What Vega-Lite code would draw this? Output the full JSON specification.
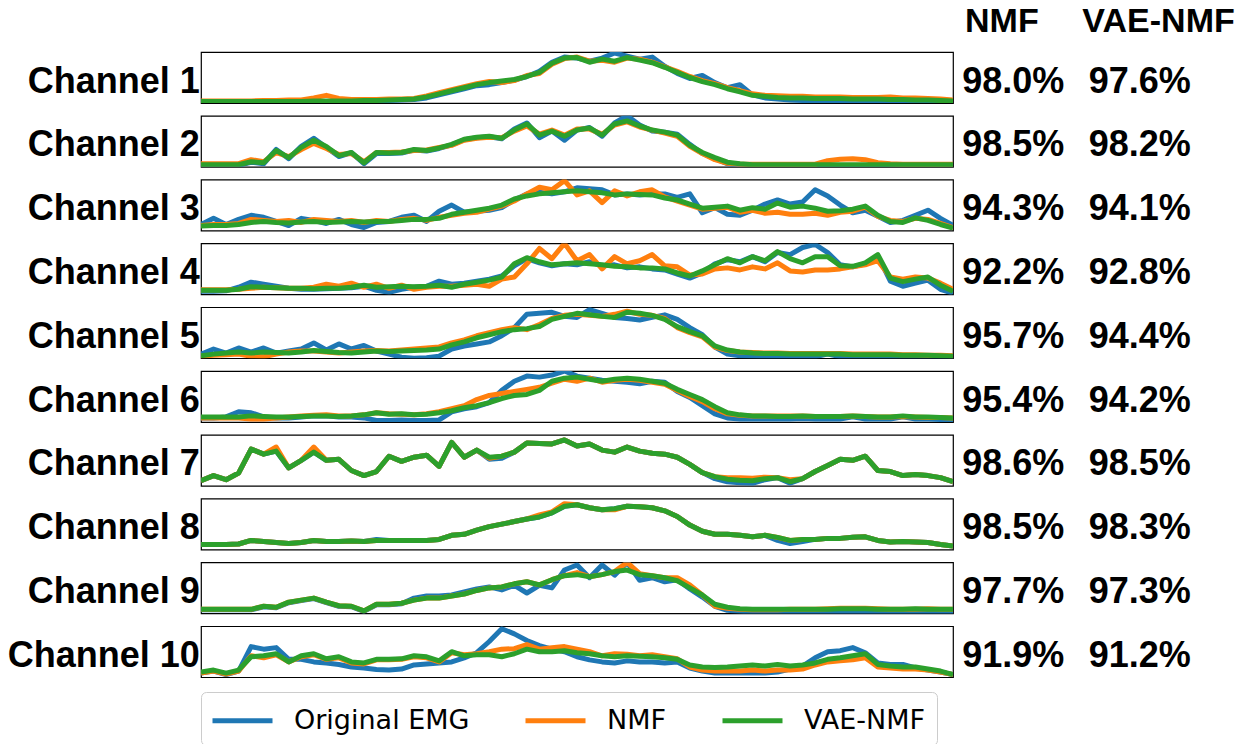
{
"$schema": "https://vega.github.io/schema/vega-lite/v6.json",
"padding": {"left": 7, "top": 4, "right": 5, "bottom": 0},
"background": "white",
"bounds": "flush",
"data": {"values": [
{"c":1,"h":"NMF"},{"c":1,"h":"VAE-NMF"},
{"c":1,"m":"L","p":"Channel 1"},{"c":2,"m":"L","p":"Channel 2"},{"c":3,"m":"L","p":"Channel 3"},{"c":4,"m":"L","p":"Channel 4"},{"c":5,"m":"L","p":"Channel 5"},
{"c":6,"m":"L","p":"Channel 6"},{"c":7,"m":"L","p":"Channel 7"},{"c":8,"m":"L","p":"Channel 8"},{"c":9,"m":"L","p":"Channel 9"},{"c":10,"m":"L","p":"Channel 10"},
{"c":1,"m":"NMF","p":"98.0%"},{"c":1,"m":"VAE","p":"97.6%"},
{"c":2,"m":"NMF","p":"98.5%"},{"c":2,"m":"VAE","p":"98.2%"},
{"c":3,"m":"NMF","p":"94.3%"},{"c":3,"m":"VAE","p":"94.1%"},
{"c":4,"m":"NMF","p":"92.2%"},{"c":4,"m":"VAE","p":"92.8%"},
{"c":5,"m":"NMF","p":"95.7%"},{"c":5,"m":"VAE","p":"94.4%"},
{"c":6,"m":"NMF","p":"95.4%"},{"c":6,"m":"VAE","p":"94.2%"},
{"c":7,"m":"NMF","p":"98.6%"},{"c":7,"m":"VAE","p":"98.5%"},
{"c":8,"m":"NMF","p":"98.5%"},{"c":8,"m":"VAE","p":"98.3%"},
{"c":9,"m":"NMF","p":"97.7%"},{"c":9,"m":"VAE","p":"97.3%"},
{"c":10,"m":"NMF","p":"91.9%"},{"c":10,"m":"VAE","p":"91.2%"},
{"c":1,"t":0,"v":3,"o":2,"n":4},{"c":1,"t":1,"v":3,"o":2,"n":4},{"c":1,"t":2,"v":3,"o":2,"n":4},{"c":1,"t":3,"v":3,"o":2,"n":4},{"c":1,"t":4,"v":3,"o":2,"n":4},{"c":1,"t":5,"v":3,"o":2,"n":5},{"c":1,"t":6,"v":3,"o":2,"n":5},{"c":1,"t":7,"v":3,"o":2,"n":6},{"c":1,"t":8,"v":3,"o":2,"n":6},{"c":1,"t":9,"v":4,"o":2,"n":10},
{"c":1,"t":10,"v":4,"o":2,"n":15},{"c":1,"t":11,"v":4,"o":2,"n":9},{"c":1,"t":12,"v":4,"o":2,"n":7},{"c":1,"t":13,"v":5,"o":2,"n":7},{"c":1,"t":14,"v":5,"o":2,"n":7},{"c":1,"t":15,"v":6,"o":5,"n":8},{"c":1,"t":16,"v":7,"o":6,"n":8},{"c":1,"t":17,"v":8,"o":7,"n":9},{"c":1,"t":18,"v":12,"o":10,"n":14},{"c":1,"t":19,"v":18,"o":16,"n":20},
{"c":1,"t":20,"v":24,"o":22,"n":26},{"c":1,"t":21,"v":30,"o":28,"n":32},{"c":1,"t":22,"v":36,"o":34,"n":38},{"c":1,"t":23,"v":40,"o":36,"n":42},{"c":1,"t":24,"v":43,"o":40,"n":40},{"c":1,"t":25,"v":46,"o":45,"n":44},{"c":1,"t":26,"v":52,"o":52,"n":54},{"c":1,"t":27,"v":60,"o":62,"n":58},{"c":1,"t":28,"v":78,"o":80,"n":76},{"c":1,"t":29,"v":88,"o":90,"n":87},
{"c":1,"t":30,"v":89,"o":88,"n":90},{"c":1,"t":31,"v":80,"o":82,"n":82},{"c":1,"t":32,"v":86,"o":88,"n":84},{"c":1,"t":33,"v":82,"o":98,"n":80},{"c":1,"t":34,"v":89,"o":92,"n":88},{"c":1,"t":35,"v":84,"o":86,"n":86},{"c":1,"t":36,"v":79,"o":90,"n":80},{"c":1,"t":37,"v":70,"o":72,"n":71},{"c":1,"t":38,"v":60,"o":58,"n":62},{"c":1,"t":39,"v":50,"o":48,"n":52},
{"c":1,"t":40,"v":42,"o":54,"n":44},{"c":1,"t":41,"v":36,"o":40,"n":38},{"c":1,"t":42,"v":28,"o":30,"n":30},{"c":1,"t":43,"v":22,"o":36,"n":24},{"c":1,"t":44,"v":15,"o":16,"n":18},{"c":1,"t":45,"v":13,"o":10,"n":15},{"c":1,"t":46,"v":11,"o":8,"n":14},{"c":1,"t":47,"v":10,"o":6,"n":13},{"c":1,"t":48,"v":10,"o":5,"n":13},{"c":1,"t":49,"v":9,"o":4,"n":12},
{"c":1,"t":50,"v":9,"o":4,"n":12},{"c":1,"t":51,"v":9,"o":4,"n":12},{"c":1,"t":52,"v":8,"o":3,"n":11},{"c":1,"t":53,"v":8,"o":3,"n":11},{"c":1,"t":54,"v":8,"o":3,"n":11},{"c":1,"t":55,"v":7,"o":3,"n":12},{"c":1,"t":56,"v":7,"o":3,"n":10},{"c":1,"t":57,"v":6,"o":2,"n":10},{"c":1,"t":58,"v":6,"o":2,"n":9},{"c":1,"t":59,"v":5,"o":2,"n":8},{"c":1,"t":60,"v":4,"o":2,"n":6},
{"c":2,"t":0,"v":4,"o":3,"n":6},{"c":2,"t":1,"v":4,"o":3,"n":6},{"c":2,"t":2,"v":4,"o":3,"n":6},{"c":2,"t":3,"v":4,"o":3,"n":6},{"c":2,"t":4,"v":10,"o":9,"n":14},{"c":2,"t":5,"v":8,"o":6,"n":10},{"c":2,"t":6,"v":32,"o":34,"n":28},{"c":2,"t":7,"v":18,"o":16,"n":20},{"c":2,"t":8,"v":38,"o":40,"n":34},{"c":2,"t":9,"v":52,"o":56,"n":46},
{"c":2,"t":10,"v":40,"o":38,"n":36},{"c":2,"t":11,"v":22,"o":20,"n":24},{"c":2,"t":12,"v":28,"o":28,"n":26},{"c":2,"t":13,"v":8,"o":6,"n":10},{"c":2,"t":14,"v":28,"o":26,"n":28},{"c":2,"t":15,"v":27,"o":26,"n":28},{"c":2,"t":16,"v":28,"o":27,"n":29},{"c":2,"t":17,"v":34,"o":33,"n":32},{"c":2,"t":18,"v":32,"o":31,"n":33},{"c":2,"t":19,"v":37,"o":36,"n":38},
{"c":2,"t":20,"v":44,"o":43,"n":42},{"c":2,"t":21,"v":54,"o":53,"n":52},{"c":2,"t":22,"v":58,"o":57,"n":56},{"c":2,"t":23,"v":60,"o":59,"n":58},{"c":2,"t":24,"v":56,"o":55,"n":57},{"c":2,"t":25,"v":72,"o":74,"n":70},{"c":2,"t":26,"v":84,"o":86,"n":80},{"c":2,"t":27,"v":62,"o":57,"n":64},{"c":2,"t":28,"v":70,"o":70,"n":72},{"c":2,"t":29,"v":60,"o":52,"n":62},
{"c":2,"t":30,"v":72,"o":72,"n":74},{"c":2,"t":31,"v":76,"o":77,"n":74},{"c":2,"t":32,"v":62,"o":60,"n":64},{"c":2,"t":33,"v":84,"o":86,"n":82},{"c":2,"t":34,"v":90,"o":100,"n":88},{"c":2,"t":35,"v":80,"o":82,"n":78},{"c":2,"t":36,"v":72,"o":70,"n":72},{"c":2,"t":37,"v":68,"o":68,"n":66},{"c":2,"t":38,"v":62,"o":64,"n":60},{"c":2,"t":39,"v":42,"o":44,"n":40},
{"c":2,"t":40,"v":28,"o":26,"n":26},{"c":2,"t":41,"v":18,"o":16,"n":14},{"c":2,"t":42,"v":9,"o":6,"n":7},{"c":2,"t":43,"v":6,"o":3,"n":5},{"c":2,"t":44,"v":4,"o":2,"n":5},{"c":2,"t":45,"v":4,"o":2,"n":5},{"c":2,"t":46,"v":4,"o":2,"n":5},{"c":2,"t":47,"v":4,"o":2,"n":5},{"c":2,"t":48,"v":4,"o":2,"n":5},{"c":2,"t":49,"v":4,"o":2,"n":5},
{"c":2,"t":50,"v":4,"o":2,"n":12},{"c":2,"t":51,"v":4,"o":2,"n":15},{"c":2,"t":52,"v":4,"o":2,"n":16},{"c":2,"t":53,"v":4,"o":2,"n":14},{"c":2,"t":54,"v":4,"o":2,"n":8},{"c":2,"t":55,"v":4,"o":2,"n":6},{"c":2,"t":56,"v":4,"o":2,"n":5},{"c":2,"t":57,"v":4,"o":2,"n":5},{"c":2,"t":58,"v":4,"o":2,"n":5},{"c":2,"t":59,"v":4,"o":2,"n":5},{"c":2,"t":60,"v":4,"o":2,"n":5},
{"c":3,"t":0,"v":9,"o":12,"n":10},{"c":3,"t":1,"v":10,"o":24,"n":12},{"c":3,"t":2,"v":10,"o":12,"n":12},{"c":3,"t":3,"v":12,"o":22,"n":14},{"c":3,"t":4,"v":16,"o":30,"n":22},{"c":3,"t":5,"v":18,"o":26,"n":20},{"c":3,"t":6,"v":16,"o":18,"n":18},{"c":3,"t":7,"v":15,"o":10,"n":20},{"c":3,"t":8,"v":17,"o":24,"n":16},{"c":3,"t":9,"v":18,"o":20,"n":22},
{"c":3,"t":10,"v":16,"o":14,"n":20},{"c":3,"t":11,"v":17,"o":22,"n":18},{"c":3,"t":12,"v":18,"o":12,"n":20},{"c":3,"t":13,"v":17,"o":6,"n":16},{"c":3,"t":14,"v":18,"o":16,"n":20},{"c":3,"t":15,"v":18,"o":18,"n":18},{"c":3,"t":16,"v":20,"o":26,"n":22},{"c":3,"t":17,"v":22,"o":30,"n":24},{"c":3,"t":18,"v":22,"o":18,"n":20},{"c":3,"t":19,"v":24,"o":38,"n":26},
{"c":3,"t":20,"v":32,"o":50,"n":30},{"c":3,"t":21,"v":36,"o":36,"n":34},{"c":3,"t":22,"v":40,"o":38,"n":36},{"c":3,"t":23,"v":44,"o":40,"n":42},{"c":3,"t":24,"v":50,"o":45,"n":48},{"c":3,"t":25,"v":62,"o":60,"n":58},{"c":3,"t":26,"v":68,"o":72,"n":72},{"c":3,"t":27,"v":72,"o":75,"n":85},{"c":3,"t":28,"v":74,"o":72,"n":80},{"c":3,"t":29,"v":76,"o":76,"n":98},
{"c":3,"t":30,"v":78,"o":84,"n":70},{"c":3,"t":31,"v":76,"o":82,"n":78},{"c":3,"t":32,"v":74,"o":80,"n":55},{"c":3,"t":33,"v":70,"o":70,"n":78},{"c":3,"t":34,"v":72,"o":72,"n":68},{"c":3,"t":35,"v":71,"o":70,"n":76},{"c":3,"t":36,"v":70,"o":72,"n":80},{"c":3,"t":37,"v":64,"o":72,"n":66},{"c":3,"t":38,"v":60,"o":65,"n":58},{"c":3,"t":39,"v":52,"o":72,"n":50},
{"c":3,"t":40,"v":44,"o":35,"n":42},{"c":3,"t":41,"v":46,"o":45,"n":44},{"c":3,"t":42,"v":48,"o":32,"n":46},{"c":3,"t":43,"v":40,"o":30,"n":36},{"c":3,"t":44,"v":45,"o":40,"n":40},{"c":3,"t":45,"v":42,"o":52,"n":34},{"c":3,"t":46,"v":54,"o":60,"n":36},{"c":3,"t":47,"v":46,"o":52,"n":32},{"c":3,"t":48,"v":48,"o":56,"n":32},{"c":3,"t":49,"v":44,"o":80,"n":34},
{"c":3,"t":50,"v":38,"o":68,"n":30},{"c":3,"t":51,"v":39,"o":50,"n":36},{"c":3,"t":52,"v":42,"o":35,"n":38},{"c":3,"t":53,"v":48,"o":40,"n":46},{"c":3,"t":54,"v":30,"o":28,"n":28},{"c":3,"t":55,"v":18,"o":16,"n":20},{"c":3,"t":56,"v":16,"o":20,"n":18},{"c":3,"t":57,"v":25,"o":30,"n":24},{"c":3,"t":58,"v":20,"o":40,"n":22},{"c":3,"t":59,"v":12,"o":24,"n":14},{"c":3,"t":60,"v":5,"o":10,"n":6},
{"c":4,"t":0,"v":8,"o":6,"n":9},{"c":4,"t":1,"v":8,"o":6,"n":9},{"c":4,"t":2,"v":8,"o":7,"n":9},{"c":4,"t":3,"v":10,"o":14,"n":10},{"c":4,"t":4,"v":15,"o":24,"n":12},{"c":4,"t":5,"v":14,"o":20,"n":14},{"c":4,"t":6,"v":13,"o":16,"n":13},{"c":4,"t":7,"v":12,"o":12,"n":12},{"c":4,"t":8,"v":12,"o":10,"n":12},{"c":4,"t":9,"v":11,"o":10,"n":14},
{"c":4,"t":10,"v":12,"o":11,"n":20},{"c":4,"t":11,"v":12,"o":12,"n":16},{"c":4,"t":12,"v":14,"o":13,"n":22},{"c":4,"t":13,"v":18,"o":16,"n":14},{"c":4,"t":14,"v":14,"o":8,"n":20},{"c":4,"t":15,"v":15,"o":4,"n":12},{"c":4,"t":16,"v":16,"o":10,"n":18},{"c":4,"t":17,"v":15,"o":14,"n":10},{"c":4,"t":18,"v":16,"o":16,"n":14},{"c":4,"t":19,"v":18,"o":26,"n":16},
{"c":4,"t":20,"v":14,"o":20,"n":16},{"c":4,"t":21,"v":20,"o":22,"n":18},{"c":4,"t":22,"v":24,"o":26,"n":20},{"c":4,"t":23,"v":28,"o":30,"n":16},{"c":4,"t":24,"v":34,"o":36,"n":30},{"c":4,"t":25,"v":60,"o":56,"n":34},{"c":4,"t":26,"v":72,"o":70,"n":60},{"c":4,"t":27,"v":64,"o":62,"n":90},{"c":4,"t":28,"v":58,"o":56,"n":70},{"c":4,"t":29,"v":60,"o":60,"n":100},
{"c":4,"t":30,"v":62,"o":58,"n":66},{"c":4,"t":31,"v":60,"o":64,"n":78},{"c":4,"t":32,"v":58,"o":56,"n":50},{"c":4,"t":33,"v":55,"o":58,"n":74},{"c":4,"t":34,"v":54,"o":52,"n":60},{"c":4,"t":35,"v":52,"o":54,"n":66},{"c":4,"t":36,"v":52,"o":50,"n":78},{"c":4,"t":37,"v":50,"o":48,"n":56},{"c":4,"t":38,"v":42,"o":40,"n":54},{"c":4,"t":39,"v":36,"o":32,"n":38},
{"c":4,"t":40,"v":46,"o":42,"n":40},{"c":4,"t":41,"v":58,"o":60,"n":50},{"c":4,"t":42,"v":70,"o":68,"n":52},{"c":4,"t":43,"v":62,"o":64,"n":48},{"c":4,"t":44,"v":74,"o":74,"n":54},{"c":4,"t":45,"v":66,"o":64,"n":50},{"c":4,"t":46,"v":84,"o":82,"n":62},{"c":4,"t":47,"v":70,"o":78,"n":46},{"c":4,"t":48,"v":62,"o":92,"n":44},{"c":4,"t":49,"v":74,"o":98,"n":48},
{"c":4,"t":50,"v":74,"o":82,"n":48},{"c":4,"t":51,"v":56,"o":58,"n":50},{"c":4,"t":52,"v":55,"o":54,"n":54},{"c":4,"t":53,"v":62,"o":60,"n":58},{"c":4,"t":54,"v":78,"o":76,"n":66},{"c":4,"t":55,"v":32,"o":26,"n":34},{"c":4,"t":56,"v":25,"o":16,"n":30},{"c":4,"t":57,"v":30,"o":22,"n":34},{"c":4,"t":58,"v":34,"o":28,"n":32},{"c":4,"t":59,"v":18,"o":10,"n":22},{"c":4,"t":60,"v":6,"o":2,"n":10},
{"c":5,"t":0,"v":5,"o":8,"n":4},{"c":5,"t":1,"v":8,"o":18,"n":6},{"c":5,"t":2,"v":10,"o":10,"n":7},{"c":5,"t":3,"v":12,"o":20,"n":8},{"c":5,"t":4,"v":10,"o":12,"n":4},{"c":5,"t":5,"v":12,"o":20,"n":3},{"c":5,"t":6,"v":11,"o":10,"n":8},{"c":5,"t":7,"v":10,"o":14,"n":12},{"c":5,"t":8,"v":12,"o":18,"n":14},{"c":5,"t":9,"v":15,"o":30,"n":14},
{"c":5,"t":10,"v":13,"o":16,"n":12},{"c":5,"t":11,"v":11,"o":28,"n":10},{"c":5,"t":12,"v":10,"o":18,"n":12},{"c":5,"t":13,"v":12,"o":25,"n":14},{"c":5,"t":14,"v":14,"o":14,"n":15},{"c":5,"t":15,"v":13,"o":8,"n":14},{"c":5,"t":16,"v":14,"o":2,"n":16},{"c":5,"t":17,"v":15,"o":0,"n":18},{"c":5,"t":18,"v":16,"o":1,"n":20},{"c":5,"t":19,"v":18,"o":4,"n":22},
{"c":5,"t":20,"v":26,"o":18,"n":30},{"c":5,"t":21,"v":32,"o":24,"n":36},{"c":5,"t":22,"v":40,"o":28,"n":44},{"c":5,"t":23,"v":46,"o":32,"n":50},{"c":5,"t":24,"v":52,"o":44,"n":56},{"c":5,"t":25,"v":56,"o":60,"n":60},{"c":5,"t":26,"v":58,"o":86,"n":56},{"c":5,"t":27,"v":62,"o":88,"n":66},{"c":5,"t":28,"v":76,"o":90,"n":78},{"c":5,"t":29,"v":82,"o":82,"n":84},
{"c":5,"t":30,"v":88,"o":80,"n":86},{"c":5,"t":31,"v":85,"o":95,"n":84},{"c":5,"t":32,"v":82,"o":88,"n":82},{"c":5,"t":33,"v":80,"o":80,"n":86},{"c":5,"t":34,"v":90,"o":78,"n":92},{"c":5,"t":35,"v":88,"o":75,"n":86},{"c":5,"t":36,"v":84,"o":80,"n":84},{"c":5,"t":37,"v":76,"o":85,"n":78},{"c":5,"t":38,"v":62,"o":76,"n":60},{"c":5,"t":39,"v":52,"o":60,"n":50},
{"c":5,"t":40,"v":44,"o":46,"n":42},{"c":5,"t":41,"v":24,"o":22,"n":22},{"c":5,"t":42,"v":16,"o":8,"n":15},{"c":5,"t":43,"v":12,"o":5,"n":12},{"c":5,"t":44,"v":10,"o":4,"n":11},{"c":5,"t":45,"v":9,"o":3,"n":10},{"c":5,"t":46,"v":9,"o":3,"n":10},{"c":5,"t":47,"v":8,"o":3,"n":9},{"c":5,"t":48,"v":8,"o":3,"n":9},{"c":5,"t":49,"v":8,"o":3,"n":9},
{"c":5,"t":50,"v":8,"o":8,"n":9},{"c":5,"t":51,"v":8,"o":3,"n":9},{"c":5,"t":52,"v":7,"o":3,"n":8},{"c":5,"t":53,"v":7,"o":3,"n":8},{"c":5,"t":54,"v":7,"o":4,"n":8},{"c":5,"t":55,"v":7,"o":3,"n":8},{"c":5,"t":56,"v":6,"o":3,"n":7},{"c":5,"t":57,"v":6,"o":3,"n":7},{"c":5,"t":58,"v":6,"o":3,"n":6},{"c":5,"t":59,"v":5,"o":3,"n":6},{"c":5,"t":60,"v":4,"o":3,"n":5},
{"c":6,"t":0,"v":10,"o":8,"n":8},{"c":6,"t":1,"v":10,"o":8,"n":8},{"c":6,"t":2,"v":10,"o":10,"n":8},{"c":6,"t":3,"v":10,"o":20,"n":8},{"c":6,"t":4,"v":12,"o":18,"n":6},{"c":6,"t":5,"v":11,"o":10,"n":6},{"c":6,"t":6,"v":10,"o":8,"n":8},{"c":6,"t":7,"v":10,"o":8,"n":10},{"c":6,"t":8,"v":11,"o":10,"n":12},{"c":6,"t":9,"v":12,"o":12,"n":13},
{"c":6,"t":10,"v":12,"o":12,"n":14},{"c":6,"t":11,"v":11,"o":10,"n":12},{"c":6,"t":12,"v":12,"o":10,"n":12},{"c":6,"t":13,"v":14,"o":8,"n":14},{"c":6,"t":14,"v":18,"o":3,"n":18},{"c":6,"t":15,"v":15,"o":3,"n":16},{"c":6,"t":16,"v":16,"o":4,"n":15},{"c":6,"t":17,"v":14,"o":3,"n":14},{"c":6,"t":18,"v":15,"o":3,"n":16},{"c":6,"t":19,"v":18,"o":4,"n":20},
{"c":6,"t":20,"v":22,"o":20,"n":26},{"c":6,"t":21,"v":28,"o":26,"n":32},{"c":6,"t":22,"v":32,"o":30,"n":44},{"c":6,"t":23,"v":38,"o":38,"n":52},{"c":6,"t":24,"v":46,"o":62,"n":56},{"c":6,"t":25,"v":52,"o":80,"n":60},{"c":6,"t":26,"v":54,"o":90,"n":64},{"c":6,"t":27,"v":62,"o":88,"n":68},{"c":6,"t":28,"v":80,"o":92,"n":76},{"c":6,"t":29,"v":86,"o":100,"n":84},
{"c":6,"t":30,"v":88,"o":90,"n":80},{"c":6,"t":31,"v":84,"o":86,"n":86},{"c":6,"t":32,"v":80,"o":82,"n":78},{"c":6,"t":33,"v":84,"o":80,"n":82},{"c":6,"t":34,"v":86,"o":78,"n":84},{"c":6,"t":35,"v":84,"o":75,"n":82},{"c":6,"t":36,"v":80,"o":80,"n":78},{"c":6,"t":37,"v":76,"o":78,"n":74},{"c":6,"t":38,"v":64,"o":60,"n":62},{"c":6,"t":39,"v":54,"o":48,"n":50},
{"c":6,"t":40,"v":44,"o":32,"n":40},{"c":6,"t":41,"v":30,"o":16,"n":26},{"c":6,"t":42,"v":18,"o":8,"n":16},{"c":6,"t":43,"v":14,"o":6,"n":13},{"c":6,"t":44,"v":12,"o":6,"n":12},{"c":6,"t":45,"v":12,"o":6,"n":12},{"c":6,"t":46,"v":11,"o":6,"n":12},{"c":6,"t":47,"v":11,"o":6,"n":12},{"c":6,"t":48,"v":12,"o":7,"n":12},{"c":6,"t":49,"v":11,"o":6,"n":11},
{"c":6,"t":50,"v":11,"o":6,"n":11},{"c":6,"t":51,"v":11,"o":6,"n":11},{"c":6,"t":52,"v":12,"o":10,"n":12},{"c":6,"t":53,"v":11,"o":6,"n":11},{"c":6,"t":54,"v":10,"o":6,"n":10},{"c":6,"t":55,"v":10,"o":6,"n":10},{"c":6,"t":56,"v":12,"o":10,"n":11},{"c":6,"t":57,"v":10,"o":6,"n":10},{"c":6,"t":58,"v":10,"o":6,"n":9},{"c":6,"t":59,"v":9,"o":5,"n":9},{"c":6,"t":60,"v":8,"o":5,"n":8},
{"c":7,"t":0,"v":10,"o":10,"n":10},{"c":7,"t":1,"v":20,"o":20,"n":20},{"c":7,"t":2,"v":12,"o":12,"n":12},{"c":7,"t":3,"v":25,"o":25,"n":25},{"c":7,"t":4,"v":72,"o":72,"n":72},{"c":7,"t":5,"v":62,"o":62,"n":62},{"c":7,"t":6,"v":68,"o":68,"n":76},{"c":7,"t":7,"v":35,"o":35,"n":35},{"c":7,"t":8,"v":50,"o":50,"n":50},{"c":7,"t":9,"v":66,"o":66,"n":76},
{"c":7,"t":10,"v":50,"o":50,"n":50},{"c":7,"t":11,"v":52,"o":52,"n":52},{"c":7,"t":12,"v":30,"o":30,"n":30},{"c":7,"t":13,"v":20,"o":20,"n":20},{"c":7,"t":14,"v":28,"o":28,"n":28},{"c":7,"t":15,"v":58,"o":58,"n":58},{"c":7,"t":16,"v":48,"o":48,"n":48},{"c":7,"t":17,"v":56,"o":56,"n":56},{"c":7,"t":18,"v":60,"o":60,"n":60},{"c":7,"t":19,"v":38,"o":38,"n":38},
{"c":7,"t":20,"v":85,"o":85,"n":85},{"c":7,"t":21,"v":56,"o":56,"n":56},{"c":7,"t":22,"v":70,"o":70,"n":70},{"c":7,"t":23,"v":56,"o":52,"n":54},{"c":7,"t":24,"v":58,"o":54,"n":58},{"c":7,"t":25,"v":66,"o":66,"n":66},{"c":7,"t":26,"v":84,"o":84,"n":84},{"c":7,"t":27,"v":83,"o":83,"n":83},{"c":7,"t":28,"v":82,"o":82,"n":82},{"c":7,"t":29,"v":90,"o":90,"n":90},
{"c":7,"t":30,"v":78,"o":78,"n":78},{"c":7,"t":31,"v":82,"o":82,"n":82},{"c":7,"t":32,"v":70,"o":70,"n":70},{"c":7,"t":33,"v":66,"o":66,"n":66},{"c":7,"t":34,"v":76,"o":76,"n":76},{"c":7,"t":35,"v":68,"o":68,"n":68},{"c":7,"t":36,"v":64,"o":64,"n":64},{"c":7,"t":37,"v":62,"o":62,"n":62},{"c":7,"t":38,"v":56,"o":56,"n":56},{"c":7,"t":39,"v":42,"o":42,"n":42},
{"c":7,"t":40,"v":26,"o":26,"n":26},{"c":7,"t":41,"v":18,"o":14,"n":18},{"c":7,"t":42,"v":13,"o":8,"n":16},{"c":7,"t":43,"v":11,"o":6,"n":16},{"c":7,"t":44,"v":10,"o":5,"n":15},{"c":7,"t":45,"v":14,"o":12,"n":17},{"c":7,"t":46,"v":16,"o":16,"n":16},{"c":7,"t":47,"v":8,"o":5,"n":12},{"c":7,"t":48,"v":14,"o":14,"n":14},{"c":7,"t":49,"v":28,"o":28,"n":28},
{"c":7,"t":50,"v":40,"o":40,"n":40},{"c":7,"t":51,"v":52,"o":52,"n":52},{"c":7,"t":52,"v":50,"o":50,"n":50},{"c":7,"t":53,"v":58,"o":58,"n":58},{"c":7,"t":54,"v":30,"o":30,"n":30},{"c":7,"t":55,"v":28,"o":28,"n":28},{"c":7,"t":56,"v":20,"o":20,"n":20},{"c":7,"t":57,"v":22,"o":22,"n":22},{"c":7,"t":58,"v":20,"o":20,"n":20},{"c":7,"t":59,"v":16,"o":16,"n":16},{"c":7,"t":60,"v":8,"o":8,"n":8},
{"c":8,"t":0,"v":10,"o":10,"n":10},{"c":8,"t":1,"v":10,"o":10,"n":10},{"c":8,"t":2,"v":10,"o":10,"n":10},{"c":8,"t":3,"v":11,"o":11,"n":11},{"c":8,"t":4,"v":18,"o":18,"n":18},{"c":8,"t":5,"v":16,"o":16,"n":16},{"c":8,"t":6,"v":14,"o":14,"n":14},{"c":8,"t":7,"v":12,"o":12,"n":12},{"c":8,"t":8,"v":14,"o":14,"n":14},{"c":8,"t":9,"v":18,"o":18,"n":18},
{"c":8,"t":10,"v":16,"o":16,"n":16},{"c":8,"t":11,"v":16,"o":16,"n":16},{"c":8,"t":12,"v":17,"o":17,"n":17},{"c":8,"t":13,"v":16,"o":16,"n":16},{"c":8,"t":14,"v":18,"o":20,"n":18},{"c":8,"t":15,"v":18,"o":18,"n":18},{"c":8,"t":16,"v":18,"o":18,"n":18},{"c":8,"t":17,"v":18,"o":18,"n":18},{"c":8,"t":18,"v":18,"o":18,"n":18},{"c":8,"t":19,"v":20,"o":20,"n":20},
{"c":8,"t":20,"v":28,"o":28,"n":28},{"c":8,"t":21,"v":30,"o":30,"n":30},{"c":8,"t":22,"v":38,"o":38,"n":38},{"c":8,"t":23,"v":45,"o":45,"n":45},{"c":8,"t":24,"v":50,"o":50,"n":50},{"c":8,"t":25,"v":55,"o":55,"n":55},{"c":8,"t":26,"v":60,"o":60,"n":60},{"c":8,"t":27,"v":64,"o":64,"n":68},{"c":8,"t":28,"v":72,"o":72,"n":74},{"c":8,"t":29,"v":85,"o":85,"n":90},
{"c":8,"t":30,"v":88,"o":88,"n":88},{"c":8,"t":31,"v":82,"o":82,"n":82},{"c":8,"t":32,"v":78,"o":78,"n":78},{"c":8,"t":33,"v":80,"o":80,"n":78},{"c":8,"t":34,"v":85,"o":85,"n":85},{"c":8,"t":35,"v":84,"o":84,"n":84},{"c":8,"t":36,"v":82,"o":82,"n":82},{"c":8,"t":37,"v":76,"o":76,"n":76},{"c":8,"t":38,"v":65,"o":65,"n":65},{"c":8,"t":39,"v":48,"o":48,"n":48},
{"c":8,"t":40,"v":36,"o":36,"n":36},{"c":8,"t":41,"v":30,"o":30,"n":30},{"c":8,"t":42,"v":30,"o":30,"n":30},{"c":8,"t":43,"v":28,"o":28,"n":28},{"c":8,"t":44,"v":25,"o":25,"n":25},{"c":8,"t":45,"v":28,"o":28,"n":28},{"c":8,"t":46,"v":24,"o":18,"n":24},{"c":8,"t":47,"v":18,"o":12,"n":18},{"c":8,"t":48,"v":20,"o":16,"n":20},{"c":8,"t":49,"v":20,"o":20,"n":20},
{"c":8,"t":50,"v":22,"o":22,"n":22},{"c":8,"t":51,"v":22,"o":22,"n":22},{"c":8,"t":52,"v":24,"o":24,"n":24},{"c":8,"t":53,"v":25,"o":25,"n":25},{"c":8,"t":54,"v":18,"o":18,"n":18},{"c":8,"t":55,"v":15,"o":15,"n":15},{"c":8,"t":56,"v":16,"o":16,"n":16},{"c":8,"t":57,"v":15,"o":15,"n":15},{"c":8,"t":58,"v":14,"o":14,"n":14},{"c":8,"t":59,"v":10,"o":10,"n":10},{"c":8,"t":60,"v":7,"o":7,"n":7},
{"c":9,"t":0,"v":8,"o":7,"n":8},{"c":9,"t":1,"v":8,"o":7,"n":8},{"c":9,"t":2,"v":8,"o":7,"n":8},{"c":9,"t":3,"v":8,"o":7,"n":8},{"c":9,"t":4,"v":8,"o":7,"n":8},{"c":9,"t":5,"v":14,"o":13,"n":14},{"c":9,"t":6,"v":12,"o":11,"n":12},{"c":9,"t":7,"v":22,"o":21,"n":22},{"c":9,"t":8,"v":26,"o":25,"n":26},{"c":9,"t":9,"v":30,"o":29,"n":30},
{"c":9,"t":10,"v":22,"o":21,"n":22},{"c":9,"t":11,"v":15,"o":14,"n":15},{"c":9,"t":12,"v":14,"o":13,"n":14},{"c":9,"t":13,"v":5,"o":4,"n":5},{"c":9,"t":14,"v":18,"o":17,"n":18},{"c":9,"t":15,"v":18,"o":17,"n":18},{"c":9,"t":16,"v":20,"o":19,"n":20},{"c":9,"t":17,"v":26,"o":30,"n":26},{"c":9,"t":18,"v":30,"o":34,"n":30},{"c":9,"t":19,"v":30,"o":34,"n":30},
{"c":9,"t":20,"v":34,"o":36,"n":34},{"c":9,"t":21,"v":38,"o":42,"n":38},{"c":9,"t":22,"v":45,"o":48,"n":45},{"c":9,"t":23,"v":50,"o":52,"n":50},{"c":9,"t":24,"v":52,"o":46,"n":52},{"c":9,"t":25,"v":58,"o":55,"n":58},{"c":9,"t":26,"v":62,"o":40,"n":62},{"c":9,"t":27,"v":56,"o":55,"n":56},{"c":9,"t":28,"v":66,"o":50,"n":66},{"c":9,"t":29,"v":74,"o":85,"n":74},
{"c":9,"t":30,"v":76,"o":95,"n":80},{"c":9,"t":31,"v":72,"o":70,"n":72},{"c":9,"t":32,"v":76,"o":95,"n":76},{"c":9,"t":33,"v":82,"o":75,"n":82},{"c":9,"t":34,"v":85,"o":100,"n":100},{"c":9,"t":35,"v":76,"o":65,"n":78},{"c":9,"t":36,"v":74,"o":70,"n":74},{"c":9,"t":37,"v":70,"o":62,"n":70},{"c":9,"t":38,"v":64,"o":66,"n":70},{"c":9,"t":39,"v":50,"o":48,"n":56},
{"c":9,"t":40,"v":36,"o":32,"n":36},{"c":9,"t":41,"v":18,"o":14,"n":14},{"c":9,"t":42,"v":12,"o":6,"n":10},{"c":9,"t":43,"v":9,"o":4,"n":8},{"c":9,"t":44,"v":8,"o":3,"n":7},{"c":9,"t":45,"v":8,"o":3,"n":7},{"c":9,"t":46,"v":8,"o":3,"n":7},{"c":9,"t":47,"v":8,"o":3,"n":8},{"c":9,"t":48,"v":8,"o":3,"n":8},{"c":9,"t":49,"v":8,"o":3,"n":8},
{"c":9,"t":50,"v":8,"o":3,"n":9},{"c":9,"t":51,"v":9,"o":3,"n":10},{"c":9,"t":52,"v":9,"o":3,"n":10},{"c":9,"t":53,"v":9,"o":3,"n":10},{"c":9,"t":54,"v":8,"o":3,"n":9},{"c":9,"t":55,"v":8,"o":3,"n":8},{"c":9,"t":56,"v":8,"o":3,"n":8},{"c":9,"t":57,"v":9,"o":3,"n":8},{"c":9,"t":58,"v":8,"o":3,"n":9},{"c":9,"t":59,"v":8,"o":3,"n":8},{"c":9,"t":60,"v":8,"o":3,"n":8},
{"c":10,"t":0,"v":10,"o":8,"n":8},{"c":10,"t":1,"v":14,"o":12,"n":12},{"c":10,"t":2,"v":8,"o":5,"n":6},{"c":10,"t":3,"v":14,"o":12,"n":12},{"c":10,"t":4,"v":40,"o":60,"n":42},{"c":10,"t":5,"v":42,"o":55,"n":38},{"c":10,"t":6,"v":46,"o":58,"n":44},{"c":10,"t":7,"v":30,"o":35,"n":30},{"c":10,"t":8,"v":42,"o":35,"n":40},{"c":10,"t":9,"v":46,"o":30,"n":44},
{"c":10,"t":10,"v":36,"o":28,"n":35},{"c":10,"t":11,"v":40,"o":25,"n":38},{"c":10,"t":12,"v":30,"o":20,"n":28},{"c":10,"t":13,"v":28,"o":18,"n":26},{"c":10,"t":14,"v":35,"o":15,"n":34},{"c":10,"t":15,"v":35,"o":14,"n":34},{"c":10,"t":16,"v":36,"o":16,"n":35},{"c":10,"t":17,"v":42,"o":24,"n":40},{"c":10,"t":18,"v":40,"o":26,"n":38},{"c":10,"t":19,"v":32,"o":28,"n":30},
{"c":10,"t":20,"v":50,"o":30,"n":48},{"c":10,"t":21,"v":42,"o":38,"n":44},{"c":10,"t":22,"v":44,"o":48,"n":46},{"c":10,"t":23,"v":44,"o":70,"n":50},{"c":10,"t":24,"v":40,"o":95,"n":55},{"c":10,"t":25,"v":46,"o":85,"n":56},{"c":10,"t":26,"v":55,"o":72,"n":64},{"c":10,"t":27,"v":50,"o":62,"n":55},{"c":10,"t":28,"v":50,"o":55,"n":58},{"c":10,"t":29,"v":52,"o":50,"n":60},
{"c":10,"t":30,"v":48,"o":40,"n":55},{"c":10,"t":31,"v":46,"o":34,"n":50},{"c":10,"t":32,"v":42,"o":30,"n":42},{"c":10,"t":33,"v":40,"o":28,"n":46},{"c":10,"t":34,"v":42,"o":32,"n":45},{"c":10,"t":35,"v":41,"o":30,"n":42},{"c":10,"t":36,"v":40,"o":30,"n":44},{"c":10,"t":37,"v":38,"o":28,"n":40},{"c":10,"t":38,"v":35,"o":30,"n":36},{"c":10,"t":39,"v":24,"o":18,"n":20},
{"c":10,"t":40,"v":20,"o":12,"n":14},{"c":10,"t":41,"v":19,"o":8,"n":12},{"c":10,"t":42,"v":20,"o":8,"n":12},{"c":10,"t":43,"v":22,"o":8,"n":12},{"c":10,"t":44,"v":24,"o":8,"n":14},{"c":10,"t":45,"v":22,"o":8,"n":12},{"c":10,"t":46,"v":25,"o":10,"n":14},{"c":10,"t":47,"v":22,"o":16,"n":14},{"c":10,"t":48,"v":24,"o":22,"n":16},{"c":10,"t":49,"v":28,"o":38,"n":24},
{"c":10,"t":50,"v":35,"o":50,"n":30},{"c":10,"t":51,"v":38,"o":52,"n":32},{"c":10,"t":52,"v":42,"o":58,"n":34},{"c":10,"t":53,"v":46,"o":48,"n":38},{"c":10,"t":54,"v":25,"o":28,"n":20},{"c":10,"t":55,"v":22,"o":25,"n":18},{"c":10,"t":56,"v":20,"o":25,"n":16},{"c":10,"t":57,"v":20,"o":18,"n":16},{"c":10,"t":58,"v":16,"o":14,"n":14},{"c":10,"t":59,"v":12,"o":10,"n":10},{"c":10,"t":60,"v":5,"o":5,"n":5}
]},
"facet": {"row": {"field": "c", "type": "ordinal", "title": null, "header": null}},
"spacing": {"row": 12.8},
"spec": {
  "width": 752,
  "height": 51,
  "layer": [
    {"transform": [{"filter": "isValid(datum.t)"}],
     "mark": {"type": "line", "clip": true, "strokeWidth": 5, "strokeJoin": "round"},
     "encoding": {
       "x": {"field": "t", "type": "quantitative", "scale": {"domain": [0, 60], "nice": false, "zero": false}, "axis": null},
       "y": {"field": "o", "type": "quantitative", "scale": {"domain": [0, 100], "nice": false, "zero": false}, "axis": null},
       "color": {"datum": "Original EMG", "type": "nominal", "scale": {"domain": ["Original EMG", "NMF", "VAE-NMF"], "range": ["#1f77b4", "#ff7f0e", "#2ca02c"]}, "legend": {"title": null}}
     }},
    {"transform": [{"filter": "isValid(datum.t)"}],
     "mark": {"type": "line", "clip": true, "strokeWidth": 5, "strokeJoin": "round"},
     "encoding": {
       "x": {"field": "t", "type": "quantitative"},
       "y": {"field": "n", "type": "quantitative"},
       "color": {"datum": "NMF", "type": "nominal"}
     }},
    {"transform": [{"filter": "isValid(datum.t)"}],
     "mark": {"type": "line", "clip": true, "strokeWidth": 5, "strokeJoin": "round"},
     "encoding": {
       "x": {"field": "t", "type": "quantitative"},
       "y": {"field": "v", "type": "quantitative"},
       "color": {"datum": "VAE-NMF", "type": "nominal"}
     }},
    {"transform": [{"filter": "datum.m == 'L'"}],
     "mark": {"type": "text", "font": "Liberation Sans", "fontSize": 36, "fontWeight": "bold", "color": "#000000", "align": "right", "baseline": "middle", "dy": 4},
     "encoding": {"x": {"datum": -0.1, "type": "quantitative"}, "text": {"field": "p"}}},
    {"transform": [{"filter": "datum.m == 'NMF'"}],
     "mark": {"type": "text", "font": "Liberation Sans", "fontSize": 36, "fontWeight": "bold", "color": "#000000", "align": "center", "baseline": "middle", "dy": 4},
     "encoding": {"x": {"datum": 64.8, "type": "quantitative"}, "text": {"field": "p"}}},
    {"transform": [{"filter": "datum.m == 'VAE'"}],
     "mark": {"type": "text", "font": "Liberation Sans", "fontSize": 36, "fontWeight": "bold", "color": "#000000", "align": "center", "baseline": "middle", "dy": 4},
     "encoding": {"x": {"datum": 74.9, "type": "quantitative"}, "text": {"field": "p"}}},
    {"transform": [{"filter": "datum.h == 'NMF'"}],
     "mark": {"type": "text", "font": "Liberation Sans", "fontSize": 34, "fontWeight": "bold", "color": "#000000", "align": "center", "baseline": "middle"},
     "encoding": {"x": {"datum": 63.9, "type": "quantitative"}, "y": {"datum": 158, "type": "quantitative"}, "text": {"field": "h"}}},
    {"transform": [{"filter": "datum.h == 'VAE-NMF'"}],
     "mark": {"type": "text", "font": "Liberation Sans", "fontSize": 34, "fontWeight": "bold", "color": "#000000", "align": "center", "baseline": "middle"},
     "encoding": {"x": {"datum": 76.4, "type": "quantitative"}, "y": {"datum": 158, "type": "quantitative"}, "text": {"field": "h"}}}
  ]
},
"config": {
  "view": {"stroke": "#000000", "strokeWidth": 1.2},
  "legend": {"orient": "bottom", "direction": "horizontal", "symbolType": "M-2,0L2,0", "symbolStrokeWidth": 5, "symbolSize": 900, "symbolOffset": 13, "labelFont": "DejaVu Sans", "labelFontSize": 27, "labelColor": "#000000", "labelOffset": 34, "columnPadding": 45, "padding": 11, "strokeColor": "#cccccc", "cornerRadius": 5, "offset": 14, "fillColor": "#ffffff", "labelLimit": 400}
}
}
